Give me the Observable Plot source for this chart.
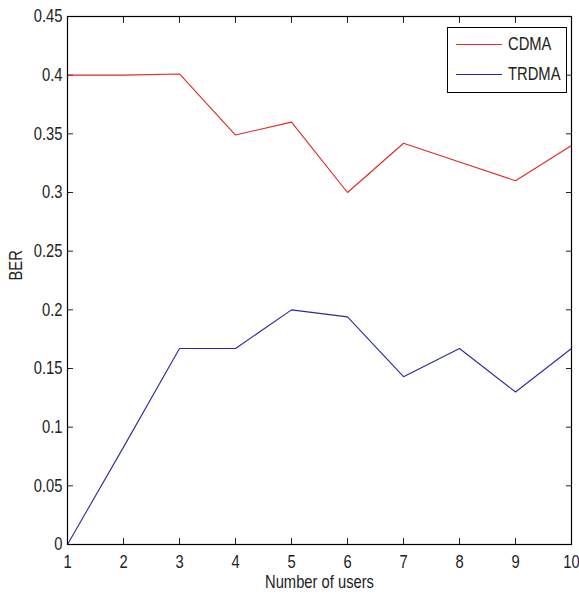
<!DOCTYPE html>
<html>
<head>
<meta charset="utf-8">
<script src="https://cdn.jsdelivr.net/npm/d3@7"></script>
<script src="https://cdn.jsdelivr.net/npm/@observablehq/plot@0.6"></script>
<style>
  html, body { margin: 0; padding: 0; background: #fff; }
  #wrap { position: relative; width: 579px; height: 601px; font-family: "Liberation Sans", Arial, sans-serif; }
  #legend { position: absolute; left: 447px; top: 27px; width: 118px; height: 64px; border: 1px solid #000; background: #fff; box-sizing: content-box; }
  .row { position: absolute; left: 8px; height: 20px; display: flex; align-items: center; font-size: 18px; color: #222; white-space: nowrap; }
  .sw { width: 46px; height: 0; border-top: 1px solid; margin-right: 6px; flex: none; }
  .lt { display: inline-block; transform: scaleX(0.82); transform-origin: left center; }
</style>
</head>
<body>
<div id="wrap">
  <div id="chart"></div>
  <div id="legend"></div>
</div>
<script>
const users = [1, 2, 3, 4, 5, 6, 7, 8, 9, 10];
const cdma  = [0.400, 0.400, 0.401, 0.349, 0.360, 0.300, 0.342, 0.326, 0.310, 0.340];
const trdma = [0.000, 0.083, 0.167, 0.167, 0.200, 0.194, 0.143, 0.167, 0.130, 0.167];
const seriesNames = ["CDMA", "TRDMA"];
const seriesColors = ["#e02828", "#2a2aa0"];
const xTicks = [1, 2, 3, 4, 5, 6, 7, 8, 9, 10];
const yTicks = [0, 0.05, 0.1, 0.15, 0.2, 0.25, 0.3, 0.35, 0.4, 0.45];
const xLabel = "Number of users";
const yLabel = "BER";

const rows = [];
users.forEach((u, i) => {
  rows.push({x: u, y: cdma[i], s: seriesNames[0]});
});
users.forEach((u, i) => {
  rows.push({x: u, y: trdma[i], s: seriesNames[1]});
});

const fmt = d => String(+d.toFixed(2));
const font = '"Liberation Sans", Arial, sans-serif';

const chart = Plot.plot({
  width: 579,
  height: 601,
  marginLeft: 67,
  marginRight: 8,
  marginTop: 16,
  marginBottom: 57,
  style: {fontFamily: font, fontSize: "18px", color: "#222", background: "#fff", overflow: "visible"},
  x: {domain: [1, 10], ticks: xTicks},
  y: {domain: [0, 0.45], ticks: yTicks},
  color: {domain: seriesNames, range: seriesColors},
  marks: [
    Plot.axisX({anchor: "bottom", ticks: xTicks, tickSize: -6, tickPadding: 17, tickFormat: fmt, label: null, fontSize: 18}),
    Plot.axisX({anchor: "top", ticks: xTicks, tickSize: -6, tickFormat: () => "", label: null}),
    Plot.axisY({anchor: "left", ticks: yTicks, tickSize: -6, tickPadding: 11, tickFormat: fmt, label: null, fontSize: 18}),
    Plot.axisY({anchor: "right", ticks: yTicks, tickSize: -6, tickFormat: () => "", label: null}),
    Plot.lineY(rows, {x: "x", y: "y", z: "s", stroke: "s", strokeWidth: 1.1}),
    Plot.frame({stroke: "#000", strokeWidth: 1.2}),
    Plot.text([xLabel], {frameAnchor: "bottom", dy: 43, fontSize: 18, fill: "#222"}),
    Plot.text([yLabel], {frameAnchor: "left", dx: -51, rotate: -90, fontSize: 18, fill: "#222"})
  ]
});
// condense glyphs horizontally (narrow Helvetica look of the reference)
chart.querySelectorAll("text").forEach(t => {
  const tr = t.getAttribute("transform");
  if (tr && /translate/.test(tr)) t.setAttribute("transform", tr + " scale(0.82,1)");
});
document.getElementById("chart").appendChild(chart);

const legend = document.getElementById("legend");
seriesNames.forEach((name, i) => {
  const r = document.createElement("div");
  r.className = "row";
  r.style.top = (6 + i * 30) + "px";
  const sw = document.createElement("span");
  sw.className = "sw";
  sw.style.borderTopColor = seriesColors[i];
  const t = document.createElement("span");
  t.className = "lt";
  t.textContent = name;
  r.appendChild(sw);
  r.appendChild(t);
  legend.appendChild(r);
});
</script>
</body>
</html>
